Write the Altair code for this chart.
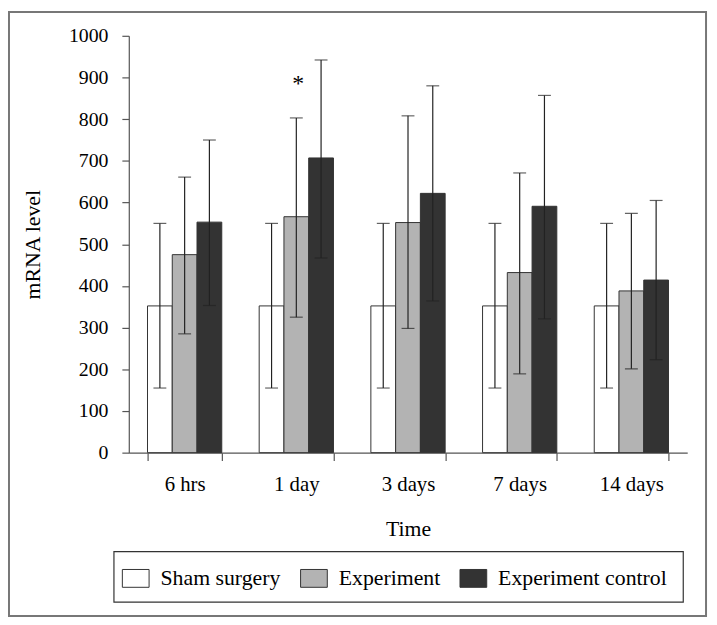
import altair as alt
import pandas as pd

times = ["6 hrs", "1 day", "3 days", "7 days", "14 days"]
groups = ["Sham surgery", "Experiment", "Experiment control"]

sham_mean = [352, 352, 352, 352, 352]
sham_low = [155, 155, 155, 155, 155]
sham_high = [550, 550, 550, 550, 550]

exp_mean = [475, 566, 552, 432, 388]
exp_low = [285, 325, 298, 189, 201]
exp_high = [661, 803, 808, 671, 574]

ctrl_mean = [553, 707, 622, 591, 414]
ctrl_low = [353, 467, 364, 321, 223]
ctrl_high = [750, 942, 880, 857, 605]

fills = ["#ffffff", "#b3b3b3", "#333333"]
y_ticks = [0, 100, 200, 300, 400, 500, 600, 700, 800, 900, 1000]

star_time = ["1 day"]
star_group = ["Experiment"]
star_y = [867]

rows = []
for g, means, lows, highs in zip(groups,
                                 [sham_mean, exp_mean, ctrl_mean],
                                 [sham_low, exp_low, ctrl_low],
                                 [sham_high, exp_high, ctrl_high]):
    for t, m, lo, hi in zip(times, means, lows, highs):
        rows.append({"time": t, "group": g, "mean": m, "low": lo, "high": hi})
df = pd.DataFrame(rows)
star_df = pd.DataFrame({"time": star_time, "group": star_group, "y": star_y})
one_df = pd.DataFrame({"a": [0]})

FONT = "Liberation Serif"

x_enc = alt.X("time:N", sort=times,
              scale=alt.Scale(domain=times, paddingInner=0.335, paddingOuter=0.1675),
              axis=alt.Axis(title="Time", labelAngle=0, tickBand="extent", tickSize=8,
                            labelFontSize=21, labelPadding=13, titlePadding=25))
xo_enc = alt.XOffset("group:N", sort=groups,
                     scale=alt.Scale(domain=groups, paddingInner=0, paddingOuter=0))
y_scale = alt.Scale(domain=[0, 1000])

bars = alt.Chart(df).mark_bar(stroke="#333333", strokeWidth=1).encode(
    x=x_enc,
    xOffset=xo_enc,
    y=alt.Y("mean:Q", scale=y_scale,
            axis=alt.Axis(title="mRNA level", values=y_ticks, format="d", tickSize=7,
                          labelPadding=14, titlePadding=24, grid=False)),
    fill=alt.Fill("group:N", title=None,
                  scale=alt.Scale(domain=groups, range=fills),
                  legend=alt.Legend(orient="none", legendX=-4, legendY=537,
                                    direction="horizontal",
                                    symbolType="M-1.5,-1L1.5,-1L1.5,1L-1.5,1Z",
                                    symbolSize=324, symbolStrokeColor="#333333",
                                    symbolStrokeWidth=1, labelFontSize=22, labelFont=FONT,
                                    labelColor="black", labelOffset=14, columnPadding=17,
                                    padding=0, labelLimit=400)),
)

err = alt.Chart(df).mark_rule(color="#222222", strokeWidth=1.2).encode(
    x=x_enc, xOffset=xo_enc, y=alt.Y("low:Q", scale=y_scale), y2="high:Q")
cap_lo = alt.Chart(df).mark_tick(color="#222222", thickness=1.2, size=13, orient="horizontal").encode(
    x=x_enc, xOffset=xo_enc, y=alt.Y("low:Q", scale=y_scale))
cap_hi = alt.Chart(df).mark_tick(color="#222222", thickness=1.2, size=13, orient="horizontal").encode(
    x=x_enc, xOffset=xo_enc, y=alt.Y("high:Q", scale=y_scale))

star = alt.Chart(star_df).mark_text(text="*", fontSize=24, font=FONT, color="black",
                                    baseline="alphabetic", dx=2).encode(
    x=x_enc, xOffset=xo_enc, y=alt.Y("y:Q", scale=y_scale))

legend_box = alt.Chart(one_df).mark_rect(filled=False, stroke="#333333", strokeWidth=1.2).encode(
    x=alt.value(-15), x2=alt.value(560), y=alt.value(521), y2=alt.value(572))

frame = alt.Chart(one_df).mark_rect(filled=False, stroke="#777777", strokeWidth=2).encode(
    x=alt.value(-121), x2=alt.value(583), y=alt.value(-24), y2=alt.value(586))

chart = alt.layer(bars, err, cap_lo, cap_hi, star, legend_box, frame).properties(
    width=564, height=421,
    autosize=alt.AutoSizeParams(type="none"),
    padding={"left": 122, "top": 25, "right": 22, "bottom": 172},
).configure(
    font=FONT,
    view=alt.ViewConfig(strokeWidth=0, stroke="transparent"),
    axis=alt.AxisConfig(
        domainColor="#555555", tickColor="#555555", labelColor="black", titleColor="black",
        labelFont=FONT, titleFont=FONT, labelFontSize=20, titleFontSize=22,
        titleFontWeight="normal", domainWidth=1.2, tickWidth=1.2),
)

chart.save("out.html", embed_options={"renderer": "svg", "actions": False})
